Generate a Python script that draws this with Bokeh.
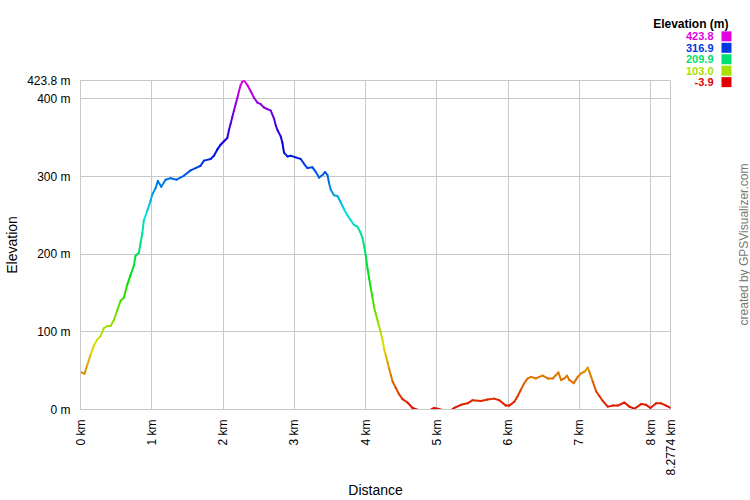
import colorsys
from math import pi
from bokeh.plotting import figure
from bokeh.models import Range1d, FixedTicker, ColumnDataSource
from bokeh.core.properties import value
from bokeh.embed import file_html
from bokeh.resources import INLINE

# ---------------- data ----------------
dist_km = [0.000, 0.056, 0.094, 0.140, 0.187, 0.235, 0.281, 0.327, 0.375, 0.421,
           0.468, 0.515, 0.562, 0.608, 0.656, 0.702, 0.749, 0.772, 0.796, 0.819,
           0.843, 0.867, 0.889, 0.937, 0.983, 1.007, 1.053, 1.086, 1.133, 1.194,
           1.264, 1.348, 1.449, 1.545, 1.615, 1.685, 1.732, 1.826, 1.872, 1.920,
           1.966, 2.013, 2.060, 2.083, 2.107, 2.130, 2.153, 2.177, 2.201, 2.223,
           2.247, 2.271, 2.294, 2.341, 2.388, 2.434, 2.482, 2.528, 2.574, 2.622,
           2.669, 2.715, 2.739, 2.763, 2.809, 2.833, 2.855, 2.903, 2.949, 3.020,
           3.090, 3.136, 3.184, 3.254, 3.301, 3.347, 3.395, 3.431, 3.465, 3.487,
           3.511, 3.557, 3.605, 3.652, 3.698, 3.746, 3.792, 3.838, 3.886, 3.923,
           3.956, 3.979, 4.003, 4.027, 4.049, 4.073, 4.097, 4.119, 4.143, 4.167,
           4.189, 4.213, 4.237, 4.260, 4.284, 4.308, 4.330, 4.354, 4.378, 4.424,
           4.470, 4.518, 4.588, 4.659, 4.729, 4.822, 4.892, 4.962, 5.010, 5.103,
           5.197, 5.243, 5.337, 5.431, 5.501, 5.618, 5.712, 5.805, 5.875, 5.969,
           6.015, 6.086, 6.133, 6.180, 6.226, 6.274, 6.320, 6.390, 6.437, 6.484,
           6.555, 6.625, 6.671, 6.704, 6.742, 6.788, 6.826, 6.858, 6.920, 6.976,
           7.022, 7.069, 7.117, 7.139, 7.187, 7.233, 7.279, 7.327, 7.397, 7.468,
           7.538, 7.630, 7.701, 7.771, 7.865, 7.935, 7.996, 8.076, 8.146, 8.216,
           8.2774]
elev_m = [48.6, 46.0, 57.0, 70.0, 82.0, 90.0, 94.5, 104.7, 107.6, 107.6,
          115.0, 127.5, 140.0, 144.0, 160.7, 173.0, 185.7, 198.0, 200.0, 202.0,
          214.7, 227.0, 243.8, 256.0, 268.8, 277.0, 285.0, 294.5, 287.0, 296.0,
          298.0, 296.0, 301.0, 308.0, 311.0, 314.0, 320.6, 322.7, 326.8, 335.0,
          341.0, 345.5, 349.8, 360.0, 368.5, 376.7, 385.0, 393.4, 401.6, 410.0,
          418.0, 422.4, 423.8, 418.0, 410.0, 401.6, 395.4, 393.4, 389.0, 387.0,
          385.0, 374.7, 366.0, 360.0, 351.8, 343.5, 331.0, 326.0, 326.8, 324.8,
          322.7, 316.5, 311.0, 312.0, 306.0, 298.7, 302.0, 306.0, 302.0, 291.6,
          283.0, 276.0, 275.0, 266.7, 258.0, 250.0, 243.8, 237.6, 235.5, 229.0,
          221.0, 210.6, 198.0, 181.5, 169.0, 156.6, 144.0, 131.7, 123.0, 115.0,
          106.8, 98.4, 90.0, 77.6, 69.4, 61.0, 52.7, 44.5, 36.0, 27.8,
          19.6, 13.3, 9.0, 2.0, -0.4, -3.9, -1.2, 2.0, 0.9, -1.2,
          -1.0, 2.0, 6.0, 8.0, 12.0, 11.0, 13.0, 14.0, 12.0, 5.0,
          5.0, 10.0, 17.0, 25.7, 34.0, 40.0, 42.0, 40.0, 42.0, 43.6,
          40.0, 40.0, 44.5, 47.8, 38.0, 40.0, 43.6, 38.0, 34.0, 42.0,
          46.5, 48.6, 54.0, 48.6, 36.0, 23.7, 17.4, 11.0, 3.7, 5.0,
          5.0, 9.0, 3.7, 1.0, 7.0, 6.0, 2.0, 8.0, 8.0, 5.0,
          2.0]

y_ticks = [0, 100, 200, 300, 400, 423.8]
y_tick_labels = ["0 m", "100 m", "200 m", "300 m", "400 m", "423.8 m"]
x_ticks = [0, 1, 2, 3, 4, 5, 6, 7, 8, 8.2774]
x_tick_labels = ["0 km", "1 km", "2 km", "3 km", "4 km", "5 km", "6 km", "7 km", "8 km", "8.2774 km"]
legend_values = [423.8, 316.9, 209.9, 103.0, -3.9]
legend_labels = ["423.8", "316.9", "209.9", "103.0", "-3.9"]

E_MIN = min(elev_m)
E_MAX = max(elev_m)
D_MAX = dist_km[-1]


def elev_color(e):
    h = (e - E_MIN) / (E_MAX - E_MIN) * 300.0 / 360.0
    r, g, b = colorsys.hsv_to_rgb(h, 1.0, 0.88)
    return "#%02x%02x%02x" % (round(r * 255), round(g * 255), round(b * 255))


# ---------------- layout geometry (page pixels, figure at 0,0) ----------------
W, H = 750, 500
B_LEFT, B_RIGHT, B_TOP, B_BOTTOM = 80, 80, 80, 81
FRAME_W = W - B_LEFT - B_RIGHT
FRAME_H = H - B_TOP - B_BOTTOM
PX_PER_KM = FRAME_W / D_MAX
PX_PER_M = FRAME_H / E_MAX
FL = B_LEFT
FB = B_TOP + FRAME_H


def xd(px):  # page px -> km
    return (px - FL) / PX_PER_KM


def yd(py):  # page px -> m
    return (FB - py) / PX_PER_M


FONT = "Liberation Sans"
GRID = "#c8c8c8"

p = figure(width=W, height=H, output_backend="svg", toolbar_location=None,
           x_range=Range1d(0, D_MAX), y_range=Range1d(0, E_MAX),
           min_border_left=B_LEFT, min_border_right=B_RIGHT,
           min_border_top=B_TOP, min_border_bottom=B_BOTTOM)
p.background_fill_color = "white"
p.border_fill_color = "white"
p.outline_line_color = GRID

# axes
p.xaxis.ticker = FixedTicker(ticks=x_ticks)
p.yaxis.ticker = FixedTicker(ticks=y_ticks)
p.xaxis.major_label_overrides = {t: l for t, l in zip(x_ticks, x_tick_labels)}
p.yaxis.major_label_overrides = {t: l for t, l in zip(y_ticks, y_tick_labels)}
p.xaxis.major_label_orientation = pi / 2
p.xaxis.axis_label = "Distance"
p.yaxis.axis_label = "Elevation"
p.xaxis.axis_label_standoff = 3
p.yaxis.axis_label_standoff = 4
for ax in (p.xaxis, p.yaxis):
    ax.axis_line_color = GRID
    ax.major_tick_line_color = None
    ax.minor_tick_line_color = None
    ax.major_label_text_font = FONT
    ax.major_label_text_font_size = "12px"
    ax.major_label_text_color = "#000000"
    ax.major_label_standoff = 4
    ax.axis_label_text_font = FONT
    ax.axis_label_text_font_size = "14px"
    ax.axis_label_text_font_style = "normal"
    ax.axis_label_text_color = "#000000"
p.xgrid.grid_line_color = GRID
p.ygrid.grid_line_color = GRID

# profile as colored segments
seg_colors = [elev_color((elev_m[i] + elev_m[i + 1]) / 2) for i in range(len(elev_m) - 1)]
src = ColumnDataSource(dict(x0=dist_km[:-1], y0=elev_m[:-1], x1=dist_km[1:], y1=elev_m[1:], c=seg_colors))
p.segment(x0="x0", y0="y0", x1="x1", y1="y1", color="c", line_width=2, line_cap="round", source=src)

# legend (overlay-level glyphs are drawn outside the frame)
row_py = [34.5 + 11.8 * i for i in range(len(legend_values))]
leg_cols = [elev_color(v) for v in legend_values]
leg_src = ColumnDataSource(dict(
    tx=[xd(713)] * len(legend_values), ty=[yd(py) for py in row_py], t=legend_labels, c=leg_cols,
    bx=[xd(726)] * len(legend_values)))
p.text(x=[xd(728)], y=[yd(21.5)], text=["Elevation (m)"], text_align="right", text_baseline="middle",
       text_font=value(FONT), text_font_size="12px", text_font_style="bold", text_color="#000000",
       level="overlay")
p.text(x="tx", y="ty", text="t", text_color="c", source=leg_src, text_align="right",
       text_baseline="middle", text_font=value(FONT), text_font_size="11px", text_font_style="bold",
       level="overlay")
p.rect(x="bx", y="ty", width=10, height=10, width_units="screen", height_units="screen",
       fill_color="c", line_color=None, source=leg_src, level="overlay")

# credit
p.text(x=[xd(743)], y=[yd(249)], text=["created by GPSVisualizer.com"], angle=pi / 2,
       text_align="center", text_baseline="middle", text_font=value(FONT),
       text_font_size="12px", text_color="#777777", level="overlay")

open("out.html", "w").write(file_html(p, INLINE))
